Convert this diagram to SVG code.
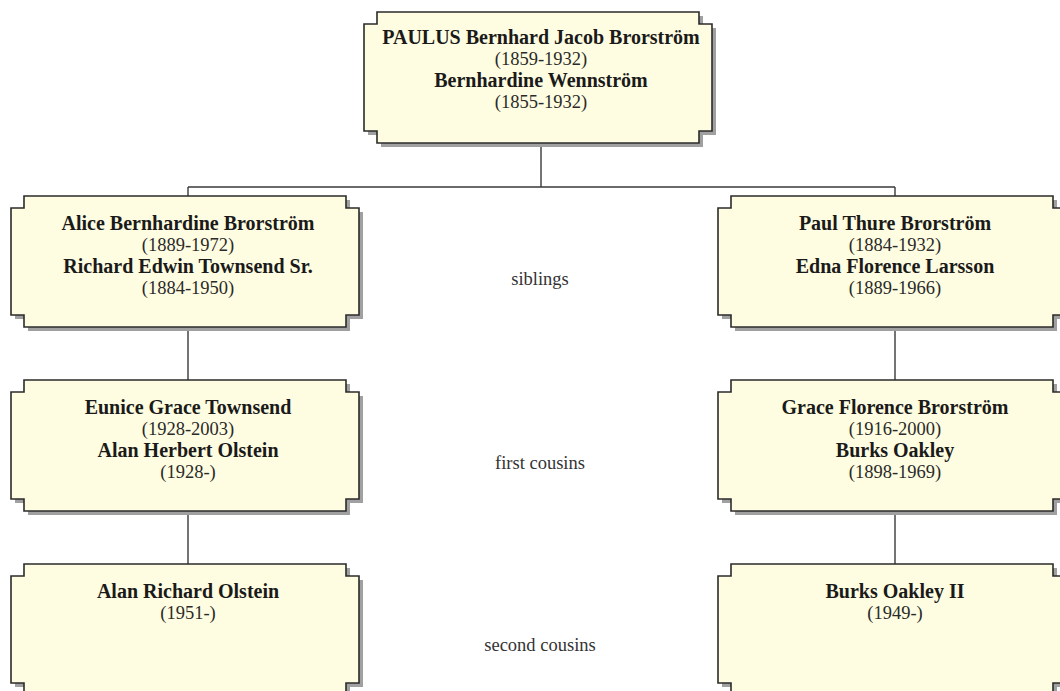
<svg xmlns="http://www.w3.org/2000/svg" xmlns:xlink="http://www.w3.org/1999/xlink" width="1060" height="691" viewBox="0 0 1060 691">
  <style>
    .bg { fill: #ffffff; }
    .shadow { fill: #a0a0a0; stroke: none; }
    .box { fill: #fffde1; stroke: #2b2b2b; stroke-width: 1.6; }
    .conn { fill: none; stroke: #3a3a3a; stroke-width: 1.4; }
    .name { font-family: "Liberation Serif", "Times New Roman", serif; font-weight: bold; font-size: 20px; fill: #1a1a1a; text-anchor: middle; }
    .date { font-family: "Liberation Serif", "Times New Roman", serif; font-size: 18.5px; fill: #2a2a2a; text-anchor: middle; }
    .rel { font-family: "Liberation Serif", "Times New Roman", serif; font-size: 18.5px; fill: #333333; text-anchor: middle; }
  </style>
  <defs>
    <path id="boxshape" d="M13,0 H335 V12 H348 V119 H335 V131 H13 V119 H0 V12 H13 Z"/>
  </defs>
  <rect class="bg" x="0" y="0" width="1060" height="691"/>

  <g id="connectors">
    <path class="conn" d="M541,143 V187 M188,187 H895 M188,187 V196 M895,187 V196"/>
    <path class="conn" d="M188,327 V380 M895,327 V380"/>
    <path class="conn" d="M188,511 V564 M895,511 V564"/>
  </g>

  <g id="node-paulus">
    <use xlink:href="#boxshape" class="shadow" x="368" y="16"/>
    <use xlink:href="#boxshape" class="box" x="364" y="12"/>
    <text class="name" x="541" y="44">PAULUS Bernhard Jacob Brorström</text>
    <text class="date" x="541" y="65">(1859-1932)</text>
    <text class="name" x="541" y="87">Bernhardine Wennström</text>
    <text class="date" x="541" y="108">(1855-1932)</text>
  </g>

  <g id="node-alice">
    <use xlink:href="#boxshape" class="shadow" x="15" y="200"/>
    <use xlink:href="#boxshape" class="box" x="11" y="196"/>
    <text class="name" x="188" y="230">Alice Bernhardine Brorström</text>
    <text class="date" x="188" y="251">(1889-1972)</text>
    <text class="name" x="188" y="273">Richard Edwin Townsend Sr.</text>
    <text class="date" x="188" y="294">(1884-1950)</text>
  </g>

  <g id="node-paul">
    <use xlink:href="#boxshape" class="shadow" x="722" y="200"/>
    <use xlink:href="#boxshape" class="box" x="718" y="196"/>
    <text class="name" x="895" y="230">Paul Thure Brorström</text>
    <text class="date" x="895" y="251">(1884-1932)</text>
    <text class="name" x="895" y="273">Edna Florence Larsson</text>
    <text class="date" x="895" y="294">(1889-1966)</text>
  </g>

  <g id="node-eunice">
    <use xlink:href="#boxshape" class="shadow" x="15" y="384"/>
    <use xlink:href="#boxshape" class="box" x="11" y="380"/>
    <text class="name" x="188" y="414">Eunice Grace Townsend</text>
    <text class="date" x="188" y="435">(1928-2003)</text>
    <text class="name" x="188" y="457">Alan Herbert Olstein</text>
    <text class="date" x="188" y="478">(1928-)</text>
  </g>

  <g id="node-grace">
    <use xlink:href="#boxshape" class="shadow" x="722" y="384"/>
    <use xlink:href="#boxshape" class="box" x="718" y="380"/>
    <text class="name" x="895" y="414">Grace Florence Brorström</text>
    <text class="date" x="895" y="435">(1916-2000)</text>
    <text class="name" x="895" y="457">Burks Oakley</text>
    <text class="date" x="895" y="478">(1898-1969)</text>
  </g>

  <g id="node-alan">
    <use xlink:href="#boxshape" class="shadow" x="15" y="568"/>
    <use xlink:href="#boxshape" class="box" x="11" y="564"/>
    <text class="name" x="188" y="598">Alan Richard Olstein</text>
    <text class="date" x="188" y="619">(1951-)</text>
  </g>

  <g id="node-burks2">
    <use xlink:href="#boxshape" class="shadow" x="722" y="568"/>
    <use xlink:href="#boxshape" class="box" x="718" y="564"/>
    <text class="name" x="895" y="598">Burks Oakley II</text>
    <text class="date" x="895" y="619">(1949-)</text>
  </g>

  <g id="labels">
    <text class="rel" x="540" y="285">siblings</text>
    <text class="rel" x="540" y="469">first cousins</text>
    <text class="rel" x="540" y="651">second cousins</text>
  </g>
</svg>
